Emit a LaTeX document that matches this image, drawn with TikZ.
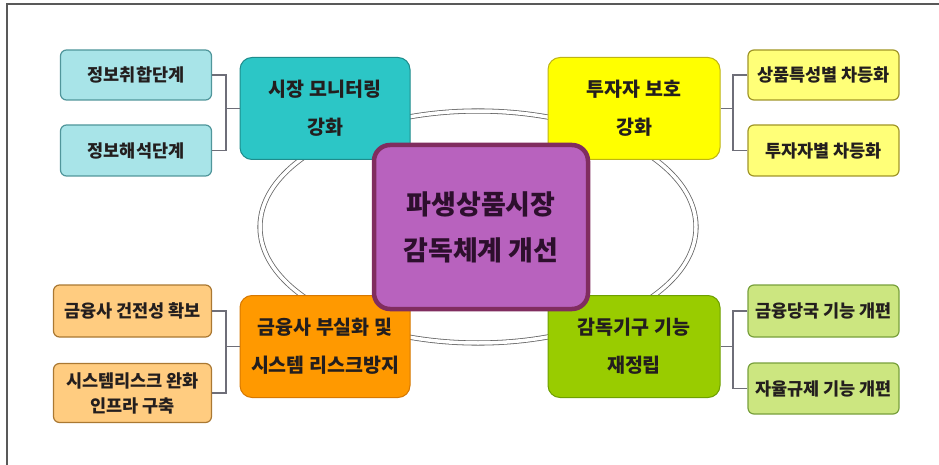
\documentclass[tikz,border=0pt]{standalone}
\usepackage{fontspec}
\setmainfont{Noto Sans CJK KR}
\usetikzlibrary{positioning}
\definecolor{cyanM}{RGB}{44,198,198}
\definecolor{cyanMb}{RGB}{30,140,140}
\definecolor{cyanC}{RGB}{168,228,232}
\definecolor{cyanCb}{RGB}{80,150,155}
\definecolor{yelM}{RGB}{255,255,0}
\definecolor{yelMb}{RGB}{190,180,20}
\definecolor{yelC}{RGB}{255,255,120}
\definecolor{yelCb}{RGB}{160,150,40}
\definecolor{orM}{RGB}{255,153,0}
\definecolor{orMb}{RGB}{215,120,0}
\definecolor{orC}{RGB}{255,204,128}
\definecolor{orCb}{RGB}{170,120,50}
\definecolor{grM}{RGB}{153,204,0}
\definecolor{grMb}{RGB}{110,160,0}
\definecolor{grC}{RGB}{204,230,128}
\definecolor{grCb}{RGB}{120,160,60}
\definecolor{ctrF}{RGB}{184,98,190}
\definecolor{ctrB}{RGB}{128,45,95}
\definecolor{linkC}{RGB}{110,110,120}
\definecolor{txt}{RGB}{35,30,30}
\tikzset{
  mainbox/.style={rectangle, rounded corners=12pt, line width=1pt, minimum width=170pt, minimum height=102pt,
    align=center, inner sep=2pt, text=txt, font=\fontsize{19.5}{38}\selectfont\bfseries},
  childbox/.style={rectangle, rounded corners=6pt, line width=1.2pt, minimum width=151pt, minimum height=50pt,
    align=center, inner sep=0pt, text=txt, font=\fontsize{17.5}{25}\selectfont\bfseries},
  ctrbox/.style={rectangle, rounded corners=16pt, line width=4.5pt, draw=ctrB, fill=ctrF,
    minimum width=214pt, minimum height=164pt, align=center, text={rgb,255:red,45;green,15;blue,45},
    font=\fontsize{27}{46}\selectfont\bfseries},
  link/.style={draw=linkC, line width=1.3pt},
  ring/.style={draw=gray!80!black, double=white, double distance=3.5pt, line width=0.8pt}
}
\begin{document}
\begin{tikzpicture}[x=1pt,y=-1pt]
\useasboundingbox (0,0) rectangle (939,465);
\fill[white] (0,0) rectangle (939,465);
% frame
\draw[line width=1.5pt, gray!70!black] (7,465) -- (7,4) -- (939,4);
% ring
\draw[ring] (478,227) ellipse [x radius=218, y radius=116];
% main boxes
\node[mainbox, fill=cyanM, draw=cyanMb] (m1) at (325,108.5) {시장 모니터링\\강화};
\node[mainbox, fill=yelM, draw=yelMb, minimum width=172pt] (m2) at (634,108.5) {투자자 보호\\강화};
\node[mainbox, fill=orM, draw=orMb] (m3) at (325,346.5) {금융사 부실화 및\\시스템 리스크방지};
\node[mainbox, fill=grM, draw=grMb, minimum width=172pt] (m4) at (634,346.5) {감독기구 기능\\재정립};
% center
\node[ctrbox] (ctr) at (481,227) {파생상품시장\\감독체계 개선};
% children
\node[childbox, fill=cyanC, draw=cyanCb] (c1) at (136,75) {정보취합단계};
\node[childbox, fill=cyanC, draw=cyanCb, minimum height=51pt] (c2) at (136,150.5) {정보해석단계};
\node[childbox, fill=yelC, draw=yelCb] (c3) at (823.5,75) {상품특성별 차등화};
\node[childbox, fill=yelC, draw=yelCb, minimum height=51pt] (c4) at (823.5,150.5) {투자자별 차등화};
\node[childbox, fill=orC, draw=orCb, minimum width=158pt, minimum height=52pt] (c5) at (132.5,311) {금융사 건전성 확보};
\node[childbox, fill=orC, draw=orCb, minimum width=158pt, minimum height=59pt] (c6) at (132.5,393) {시스템리스크 완화\\인프라 구축};
\node[childbox, fill=grC, draw=grCb, minimum height=52pt] (c7) at (823.5,311) {금융당국 기능 개편};
\node[childbox, fill=grC, draw=grCb, minimum height=51pt] (c8) at (823.5,388.5) {자율규제 기능 개편};
% junctions
\coordinate (j1) at (226,108.5);
\coordinate (j2) at (733,108.5);
\coordinate (j3) at (226,346.5);
\coordinate (j4) at (733,346.5);
\draw[link] (c1.east) -| (j1);
\draw[link] (c2.east) -| (j1);
\draw[link] (j1) -- (m1.west);
\draw[link] (c3.west) -| (j2);
\draw[link] (c4.west) -| (j2);
\draw[link] (j2) -- (m2.east);
\draw[link] (c5.east) -| (j3);
\draw[link] (c6.east) -| (j3);
\draw[link] (j3) -- (m3.west);
\draw[link] (c7.west) -| (j4);
\draw[link] (c8.west) -| (j4);
\draw[link] (j4) -- (m4.east);
\end{tikzpicture}
\end{document}
